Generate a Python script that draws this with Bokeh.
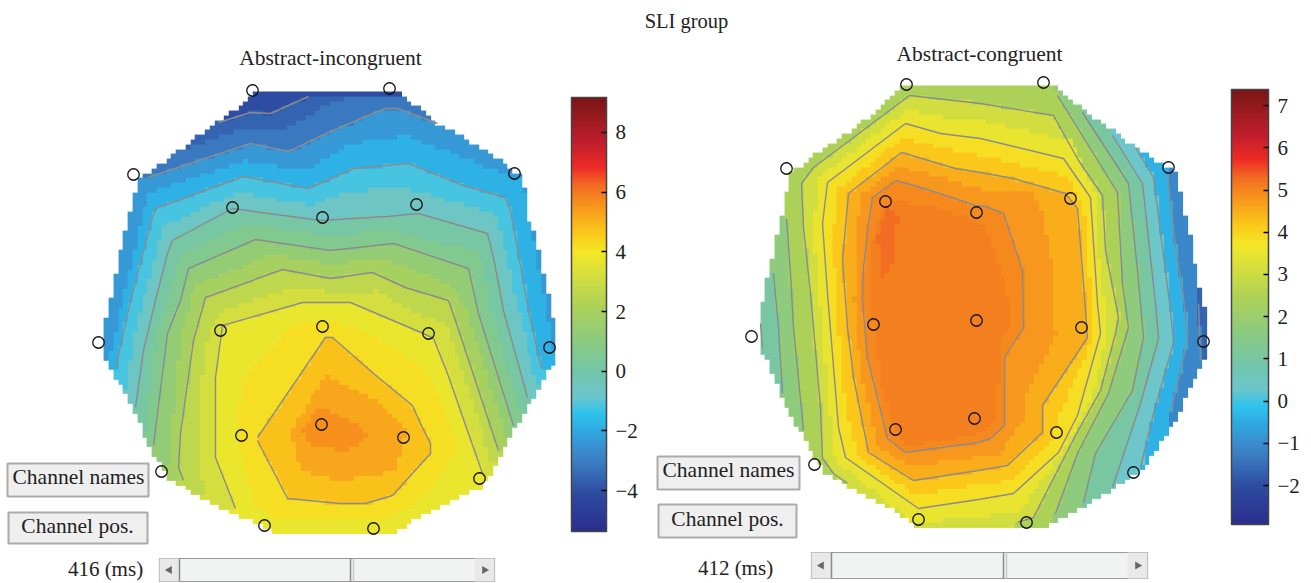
from bokeh.plotting import figure
from bokeh.embed import file_html
from bokeh.resources import INLINE
from bokeh.models import Range1d, LinearColorMapper, ColorBar, FixedTicker
from bokeh.core.properties import value
import numpy as np

# ---------- chart texts ----------
title_main = "SLI group"
title_left = "Abstract-incongruent"
title_right = "Abstract-congruent"
time_left = "416 (ms)"
time_right = "412 (ms)"
btn_names = "Channel names"
btn_pos = "Channel pos."

# ---------- colour scales ----------
left_low, left_high = -5.37, 9.17
right_low, right_high = -2.92, 7.38
left_ticks = [-4, -2, 0, 2, 4, 6, 8]
right_ticks = [-2, -1, 0, 1, 2, 3, 4, 5, 6, 7]
cmap_pos = [0, .09, .15, .19, .23, .27, .31, .36, .44, .52, .60, .645, .69, .76, .80, .84, .90, .97, 1]
cmap_hex = ["#2a2e8e", "#2f4ea2", "#3a78bf", "#3b8fd0", "#2fa9e0", "#2ec3ee", "#6cc6cd", "#72c6ae",
            "#8ccb80", "#aed257", "#dbe13a", "#f5e826", "#fbc81a", "#f78e1e", "#f26a22", "#ee2b26",
            "#be1e2d", "#8e1a1d", "#7c1416"]

# ---------- electrodes ----------
left_elec_x = [252, 389, 133, 514, 232, 322, 416, 98, 549, 220, 322, 428, 241, 321, 403, 161, 479, 264, 373]
left_elec_y = [90, 88, 174, 173, 207, 217, 204, 342, 347, 330, 326, 333, 435, 424, 437, 471, 478, 525, 528]
right_elec_x = [906, 1043, 786, 1168, 885, 976, 1070, 751, 1203, 873, 976, 1081, 895, 974, 1056, 814, 1133, 918, 1026]
right_elec_y = [84, 82, 168, 167, 201, 212, 198, 336, 341, 324, 320, 327, 429, 418, 432, 464, 472, 519, 522]

# ---------- scalp outlines ----------
left_head = [(253,92),(398,92),(437,123),(468,140),(507,165),(522,178),(527,217),(536,240),(540,262),(545,285),
             (550,307),(555,328),(555,360),(548,368),(540,385),(527,407),(513,430),(495,463),(482,487),(445,502),
             (418,517),(390,533),(277,533),(257,522),(240,517),(200,497),(167,477),(155,457),(137,420),(117,380),
             (108,365),(104,353),(104,325),(108,307),(113,285),(117,263),(123,240),(127,223),(132,200),(137,178),
             (163,162),(200,133),(237,108)]
right_head = [(903,85),(1053,85),(1062,93),(1098,120),(1140,150),(1175,172),(1179,190),(1184,212),(1189,233),
              (1193,257),(1197,278),(1202,300),(1208,323),(1208,353),(1197,372),(1185,398),(1172,425),(1152,455),
              (1140,470),(1117,485),(1090,502),(1062,517),(1043,527),(920,527),(893,510),(853,490),(822,470),
              (807,443),(785,407),(767,360),(758,348),(758,318),(762,300),(767,278),(772,257),(777,233),(781,217),
              (785,195),(790,173),(808,159),(840,137),(870,115)]

# ---------- left map: isolines ----------
LA = [(218,122),(250,112),(270,113),(308,96)]
LB = [(147,177),(250,143),(288,151),(330,131),(363,117),(385,108),(397,108),(437,123)]
LC = [(115,368),(130,300),(152,217),(155,208),(243,176),(308,188),(353,168),(408,163),(463,185),(505,197),(510,210),(528,310),(541,368)]
LD = [(135,407),(143,350),(155,300),(167,253),(172,240),(232,208),(320,220),(387,216),(418,213),(487,233),(493,257),(503,310),(527,397)]
LE = [(153,445),(167,333),(180,300),(188,268),(255,239),(330,250),(393,243),(468,268),(478,313),(513,425)]
LF = [(183,480),(178,467),(180,433),(193,340),(205,297),(282,269),(330,278),(372,272),(405,287),(448,300),(455,320),(498,450)]
LG = [(235,508),(215,457),(215,377),(222,325),(302,302),(350,302),(423,333),(433,338),(447,373),(482,473)]
LH = [(257,437),(325,337),(332,337),(373,373),(412,405),(420,423),(430,443),(430,453),(392,495),(365,503),(340,503),(287,498),(257,440)]
# undrawn in-between colour levels
LAB = [(182,148),(250,127),(282,130),(320,108),(350,94)]
LBC = [(106,368),(122,300),(142,215),(147,193),(243,160),(305,170),(350,143),(405,135),(470,160),(520,180),(528,210),(545,310),(555,365)]
LCD = [(125,390),(135,325),(152,265),(163,225),(238,192),(310,205),(350,190),(408,188),(475,208),(496,215),(518,310),(535,385)]
LDE = [(145,430),(155,340),(170,285),(180,255),(245,223),(325,235),(390,230),(440,243),(478,250),(490,312),(520,412)]
LEF = [(168,465),(180,335),(195,285),(270,254),(330,263),(385,258),(450,284),(466,310),(505,438)]
LFG = [(205,495),(197,460),(198,400),(208,330),(220,310),(295,286),(335,292),(375,290),(425,317),(445,322),(490,460)]
LGH = [(237,440),(242,380),(290,325),(330,320),(370,335),(420,365),(440,400),(455,450),(420,500),(380,520),(280,520),(255,505)]
LHI = [(290,430),(325,375),(375,400),(405,430),(395,470),(340,480),(300,470)]
LP = [(300,430),(320,405),(350,420),(370,435),(345,450),(310,445)]
left_base = -4.1
left_open = [(LA,-3.6),(LAB,-3.1),(LB,-2.4),(LBC,-1.8),(LC,-1.2),(LCD,-0.6),(LD,0.1),(LDE,0.6),(LE,1.3),(LEF,1.9),(LF,2.6),(LFG,3.2),(LG,3.75)]
left_closed = [(LGH,4.2),(LH,4.75),(LHI,5.2),(LP,5.6)]

# ---------- right map: isolines ----------
R1 = [(896,180),(872,197),(868,223),(863,267),(862,300),(867,357),(887,438),(905,452),(978,442),(990,438),(1004,425),(1004,357),(1023,327),(1022,270),(1003,213),(985,206),(975,205),(930,190),(896,180)]
R2 = [(901,152),(848,193),(842,260),(847,327),(853,377),(868,452),(913,480),(978,470),(1007,465),(1042,432),(1042,405),(1087,337),(1082,270),(1077,208),(1065,193),(1013,178),(980,172),(955,168),(901,152)]
R3 = [(905,123),(827,182),(822,223),(827,293),(838,427),(845,457),(918,508),(978,499),(1013,493),(1058,452),(1077,415),(1100,333),(1097,303),(1090,197),(1063,158),(980,138),(940,133),(905,123)]
R4 = [(847,483),(833,473),(822,458),(820,407),(810,293),(803,227),(801,183),(813,167),(909,95),(980,103),(1053,115),(1078,160),(1102,195),(1105,250),(1118,317),(1115,333),(1100,390),(1075,435),(1033,517),(1017,522)]
R5 = [(786,218),(790,273),(793,327),(803,430)]
R5b = [(1057,95),(1117,192),(1122,283),(1128,327),(1108,393),(1077,453),(1055,513)]
R6 = [(773,273),(778,327),(782,393)]
R6b = [(1082,112),(1128,183),(1137,270),(1143,337),(1132,390),(1095,453),(1083,502)]
R7 = [(760,323),(762,347)]
R7b = [(1112,135),(1142,183),(1155,303),(1158,338),(1140,403),(1112,487)]
R8b = [(1135,147),(1153,177),(1170,310),(1173,342),(1153,413),(1140,467)]
R9b = [(1167,173),(1175,247),(1183,297),(1187,340),(1170,412)]
R10b = [(1198,303),(1200,360)]
# undrawn in-between colour levels
M34 = [(907,109),(820,175),(812,225),(819,300),(829,415),(835,460),(912,522),(978,516),(1020,510),(1065,445),(1090,400),(1107,333),(1097,250),(1095,195),(1070,140),(980,120),(940,116)]
M23 = [(903,137),(838,188),(832,240),(837,310),(845,410),(857,455),(915,494),(978,484),(1010,480),(1050,442),(1060,410),(1093,335),(1087,260),(1083,205),(1065,176),(980,155),(950,150)]
M12 = [(898,166),(860,195),(855,240),(853,300),(860,370),(877,445),(908,466),(978,456),(1000,452),(1022,420),(1022,400),(1055,335),(1052,270),(1040,210),(1030,190),(975,188),(930,174)]
M1P = [(890,200),(873,225),(870,300),(880,380),(895,430),(905,445),(975,435),(995,420),(1000,340),(1012,320),(1000,270),(985,225),(960,215),(930,205)]
MHOT = [(886,205),(897,215),(895,245),(890,270),(878,280),(877,235)]
right_base = -1.65
right_levels = [-1.1, -0.4, 0.3, 1.0, 1.7, 2.4, 3.1, 3.5, 3.85, 4.2, 4.5, 4.8, 4.95, 5.05, 5.25]

# ---------- helpers ----------
def make_palette():
    rgb = np.array([[int(h[i:i+2], 16) for i in (1, 3, 5)] for h in cmap_hex], float)
    t = np.linspace(0, 1, 256)
    chan = [np.interp(t, cmap_pos, rgb[:, k]) for k in range(3)]
    return ["#%02x%02x%02x" % (int(r), int(g), int(b)) for r, g, b in zip(*chan)]

def inside(poly, X, Y):
    px = np.array([q[0] for q in poly], float)
    py = np.array([q[1] for q in poly], float)
    res = np.zeros(X.shape, bool)
    for i in range(len(px)):
        j = i - 1
        cond = (py[i] > Y) != (py[j] > Y)
        with np.errstate(divide="ignore", invalid="ignore"):
            xc = (px[j] - px[i]) * (Y - py[i]) / (py[j] - py[i]) + px[i]
        res ^= cond & (X < xc)
    return res

CELL = 4.8
def cells(x0, x1, y0, y1):
    nx = int(round((x1 - x0) / CELL))
    ny = int(round((y1 - y0) / CELL))
    xs = x0 + (np.arange(nx) + .5) * CELL
    ys = y0 + (np.arange(ny) + .5) * CELL
    X, Y = np.meshgrid(xs, ys)
    return X, Y, nx * CELL, ny * CELL

def xy(pts):
    return [q[0] for q in pts], [q[1] for q in pts]

# left raster
lx0, ly0 = 84.0, 91.0
LX, LY, ldw, ldh = cells(lx0, 570, ly0, 536)
left_grid = np.full(LX.shape, left_base, float)
for pts, v in left_open:
    poly = [(60, pts[0][1])] + pts + [(600, pts[-1][1]), (600, 600), (60, 600)]
    left_grid[inside(poly, LX, LY)] = v
for pts, v in left_closed:
    left_grid[inside(pts, LX, LY)] = v
left_grid[~inside(left_head, LX, LY)] = np.nan

# right raster, painted from the outermost level inward
rx0, ry0 = 750.0, 85.0
RX, RY, rdw, rdh = cells(rx0, 1215, ry0, 530)
right_grid = np.full(RX.shape, right_base, float)
right_polys = [
    R10b + [(1190,570),(730,570),(730,60),(1190,60)],
    R9b + [(1160,470),(1150,570),(730,570),(730,60),(1150,60)],
    R8b + [(1120,570),(730,570),(730,60),(1120,60)],
    R7b + [(1100,560),(790,570),(745,370)] + R7[::-1] + [(740,310),(740,60),(1090,60)],
    R6b + [(1070,560),(790,560),(760,420)] + R6[::-1] + [(750,250),(750,60),(1060,60)],
    R5b + [(1040,560),(800,560),(785,470)] + R5[::-1] + [(770,205),(770,60),(1040,60)],
    R4 + [(1010,540),(860,540)],
    M34, R3, M23, R2, M12, R1, M1P, MHOT,
]
for poly, v in zip(right_polys, right_levels):
    right_grid[inside(poly, RX, RY)] = v
right_grid[~inside(right_head, RX, RY)] = np.nan

# ---------- figure ----------
W, H = 1311, 583
FONT = value("Liberation Serif")
p = figure(width=W, height=H, x_range=Range1d(0, W), y_range=Range1d(H, 0),
           output_backend="svg", toolbar_location=None, min_border=0,
           x_axis_location=None, y_axis_location=None)
p.grid.visible = False
p.outline_line_color = None

palette = make_palette()
left_map = LinearColorMapper(palette=palette, low=left_low, high=left_high, nan_color=(0, 0, 0, 0))
right_map = LinearColorMapper(palette=palette, low=right_low, high=right_high, nan_color=(0, 0, 0, 0))

p.image(image=[left_grid], x=lx0, y=ly0, dw=ldw, dh=ldh, color_mapper=left_map)
p.image(image=[right_grid], x=rx0, y=ry0, dw=rdw, dh=rdh, color_mapper=right_map)

# contour lines
left_drawn = [LA, LB, LC, LD, LE, LF, LG, LH]
right_drawn = [R1, R2, R3, R4, R5, R5b, R6, R6b, R7, R7b, R8b, R9b, R10b]
for group in (left_drawn, right_drawn):
    xs = [xy(c)[0] for c in group]
    ys = [xy(c)[1] for c in group]
    p.multi_line(xs, ys, line_color="#8b8b8f", line_width=1.4)

# electrodes
p.scatter(left_elec_x, left_elec_y, marker="circle", size=11.5, fill_color=None, line_color="#111111", line_width=1.3)
p.scatter(right_elec_x, right_elec_y, marker="circle", size=11.5, fill_color=None, line_color="#111111", line_width=1.3)

# colour bars
def add_bar(mapper, ticks, bx, by_top, bw, bh):
    cb = ColorBar(color_mapper=mapper, ticker=FixedTicker(ticks=ticks), width=bw, height=bh,
                  location=(bx, H - by_top - bh), padding=0,
                  border_line_color=None, background_fill_alpha=0, bar_line_color="#444444", bar_line_width=1.5,
                  major_tick_line_color="black", major_tick_line_width=1.5, major_tick_in=5, minor_tick_line_color=None,
                  major_label_text_font="Liberation Serif", major_label_text_font_size="21px",
                  major_label_text_color="#222222", label_standoff=9)
    p.add_layout(cb, "center")

add_bar(left_map, left_ticks, 571, 97, 35, 434)
add_bar(right_map, right_ticks, 1231, 89, 37, 435)

# left-hand tick stubs of the bars
def stub(x, ticks, low, high, top, bottom):
    scale = (bottom - top) / (high - low)
    p.segment([x] * len(ticks), [top + (high - t) * scale for t in ticks],
              [x + 5] * len(ticks), [top + (high - t) * scale for t in ticks],
              line_color="black", line_width=1.5)
stub(571, left_ticks, left_low, left_high, 97, 531)
stub(1231, right_ticks, right_low, right_high, 89, 524)

# interface pieces
def button(x0, x1, y0, y1, label, cx, cy):
    p.quad(left=x0, right=x1, top=y0, bottom=y1, fill_color="#efefef", line_color="#ababab", line_width=2)
    p.text([cx], [cy], text=[label], text_font=FONT, text_font_size="21.5px", text_color="#222222",
           text_align="center", text_baseline="middle")

button(7, 148, 463, 496, btn_names, 78, 476.5)
button(8, 147, 512, 543, btn_pos, 77, 525)
button(657, 799, 456, 489, btn_names, 728, 469.5)
button(658, 796, 504, 537, btn_pos, 727, 518)

def slider(x0, x1, y0, y1, thumb):
    p.quad(left=x0, right=x1, top=y0, bottom=y1, fill_color="#f1f2f2", line_color="#9a9a9a", line_width=1.2)
    p.quad(left=x0, right=x0 + 20, top=y0, bottom=y1, fill_color="#e9e9e9", line_color=None)
    p.quad(left=x1 - 20, right=x1, top=y0, bottom=y1, fill_color="#e9e9e9", line_color=None)
    p.segment([x0 + 20, thumb, thumb + 3], [y0] * 3, [x0 + 20, thumb, thumb + 3], [y1] * 3,
              line_color=["#8a8a8a", "#8a8a8a", "#c8c8c8"], line_width=1.5)
    p.scatter([x0 + 10], [(y0 + y1) / 2], marker="triangle", size=8, angle=np.pi / 2, fill_color="#666666", line_color=None)
    p.scatter([x1 - 10], [(y0 + y1) / 2], marker="triangle", size=8, angle=-np.pi / 2, fill_color="#666666", line_color=None)

slider(159, 494, 558, 581, 350)
slider(811, 1147, 552, 578, 1003)

def label(x, y, s, size="21px", align="center"):
    p.text([x], [y], text=[s], text_font=FONT, text_font_size=size, text_color="#222222",
           text_align=align, text_baseline="middle")

label(686, 20, title_main, "20.5px")
label(330, 57, title_left, "21.5px")
label(979, 53, title_right, "21.5px")
label(105, 568, time_left, "21px")
label(735, 567, time_right, "21px")

open("out.html", "w").write(file_html(p, INLINE))
